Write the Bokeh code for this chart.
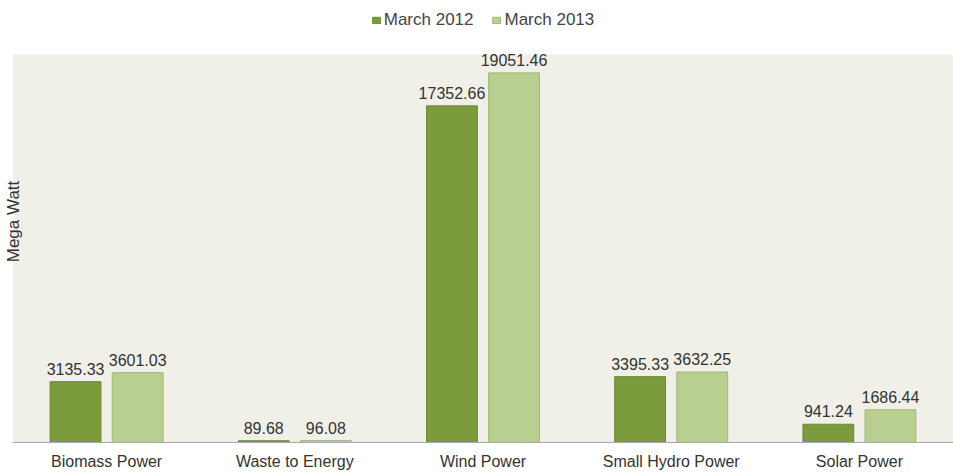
from bokeh.plotting import figure
from bokeh.models import (ColumnDataSource, FactorRange, LabelSet, Legend, LegendItem,
                          FixedTicker, BoxAnnotation)
from bokeh.core.properties import value
from bokeh.transform import dodge
from bokeh.embed import file_html
from bokeh.resources import INLINE

categories = ["Biomass Power", "Waste to Energy", "Wind Power", "Small Hydro Power", "Solar Power"]
march_2012 = [3135.33, 89.68, 17352.66, 3395.33, 941.24]
march_2013 = [3601.03, 96.08, 19051.46, 3632.25, 1686.44]
series_names = ["March 2012", "March 2013"]
axis_max = 20000

FONT = "Liberation Sans"
DARK = "#7b9b3d"
DARK_LINE = "#6b8a30"
LIGHT = "#b8cf8f"
LIGHT_LINE = "#9cb873"
BG = "#f0f0e9"

src = ColumnDataSource(dict(
    cat=categories,
    y12=march_2012,
    y13=march_2013,
    t12=[f"{v:.2f}" for v in march_2012],
    t13=[f"{v:.2f}" for v in march_2013],
))

# plot area occupies 388 px of a 442 px frame; the top 54 px hold the legend
y_end = axis_max * 442 / 388

p = figure(x_range=FactorRange(*categories, range_padding=0), y_range=(0, y_end),
           width=953, height=472, output_backend="svg", toolbar_location=None,
           min_border_left=0, min_border_right=0, min_border_top=0, min_border_bottom=0)
p.background_fill_color = "white"
p.border_fill_color = "white"
p.outline_line_color = None
p.xgrid.grid_line_color = None
p.ygrid.grid_line_color = None

p.add_layout(BoxAnnotation(bottom=0, top=axis_max, fill_color=BG, fill_alpha=1,
                           line_color=None, level="underlay"))

off = 0.165
w = 0.27
r1 = p.vbar(x=dodge("cat", -off, range=p.x_range), top="y12", width=w, source=src,
            fill_color=DARK, line_color=DARK_LINE)
r2 = p.vbar(x=dodge("cat", off, range=p.x_range), top="y13", width=w, source=src,
            fill_color=LIGHT, line_color=LIGHT_LINE)

for col, t, o in (("y12", "t12", -off), ("y13", "t13", off)):
    lab = LabelSet(x=dodge("cat", o, range=p.x_range), y=col, text=t, source=src,
                   text_align="center", text_baseline="bottom", y_offset=7,
                   text_font=value(FONT), text_font_size=value("16px"), text_color="#333333")
    p.add_layout(lab)

ya = p.yaxis[0]
ya.ticker = FixedTicker(ticks=[])
ya.axis_line_color = None
ya.major_tick_line_color = None
ya.minor_tick_line_color = None
ya.major_tick_out = 0
ya.major_label_standoff = 0
ya.axis_label = "Mega Watt"
ya.axis_label_text_font = FONT
ya.axis_label_text_font_size = "17px"
ya.axis_label_text_font_style = "normal"
ya.axis_label_text_color = "#333333"
ya.axis_label_standoff = -10

xa = p.xaxis[0]
xa.axis_line_color = "#a8a8a8"
xa.axis_line_width = 1
xa.major_tick_line_color = None
xa.minor_tick_line_color = None
xa.major_tick_out = 0
xa.major_label_text_font = FONT
xa.major_label_text_font_size = "16px"
xa.major_label_text_color = "#333333"
xa.major_label_standoff = 10

legend = Legend(items=[LegendItem(label=series_names[0], renderers=[r1]),
                       LegendItem(label=series_names[1], renderers=[r2])],
                orientation="horizontal", location="top_center",
                label_text_font=FONT, label_text_font_size="17px", label_text_color="#444444",
                glyph_width=10, glyph_height=8, spacing=18, label_standoff=3,
                padding=4, margin=10, border_line_color=None, background_fill_alpha=0)
p.add_layout(legend)

open("out.html", "w").write(file_html(p, INLINE))
